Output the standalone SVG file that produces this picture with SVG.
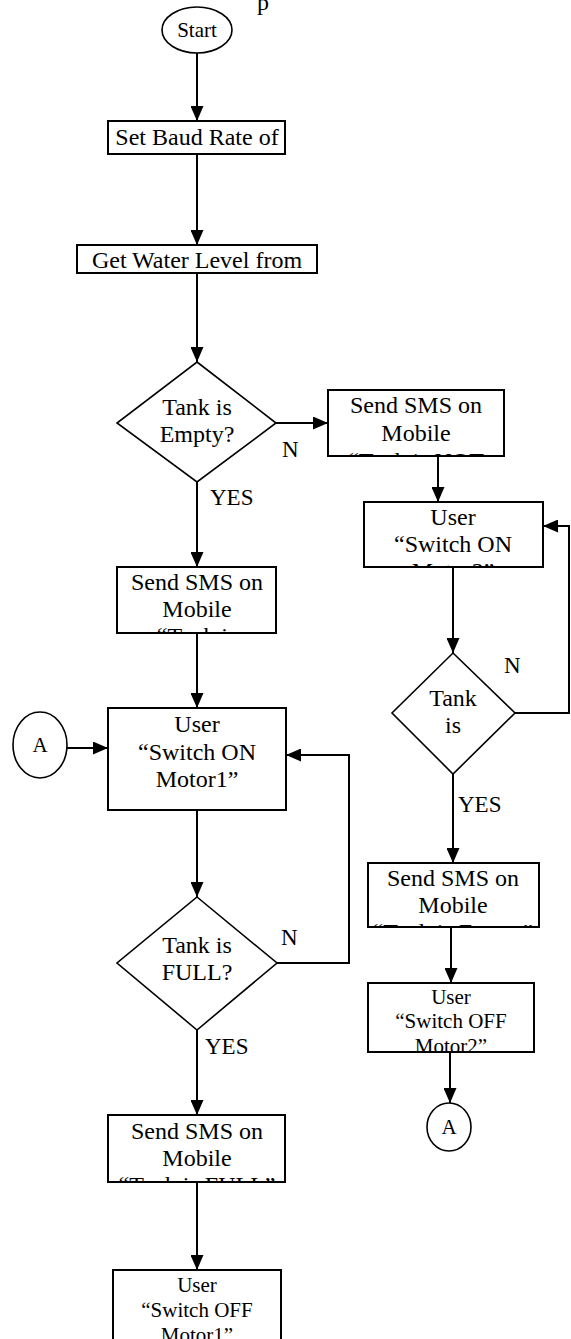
<svg xmlns="http://www.w3.org/2000/svg" width="571" height="1339" viewBox="0 0 571 1339">
<style>
text{font-family:"Liberation Serif","Times New Roman",serif;fill:#000}
.t{font-size:24px;text-anchor:middle}
.s{font-size:21px;text-anchor:middle}
.l{font-size:23px}
.box{fill:#fff;stroke:#000;stroke-width:2}
.dia{fill:#fff;stroke:#000;stroke-width:1.6}
.ell{fill:#fff;stroke:#000;stroke-width:1.6}
.c{fill:none;stroke:#000;stroke-width:2}
.a{marker-end:url(#ah)}
</style>
<defs>
<marker id="ah" markerUnits="userSpaceOnUse" markerWidth="16" markerHeight="13" refX="15" refY="6.5" orient="auto">
<path d="M0,0 L15,6.5 L0,13 z" fill="#000"/>
</marker>
<clipPath id="cp1"><rect x="328" y="390" width="176" height="65"/></clipPath>
<clipPath id="cp2"><rect x="364" y="502" width="179" height="64"/></clipPath>
<clipPath id="cp3"><rect x="117" y="567" width="159" height="65"/></clipPath>
<clipPath id="cp4"><rect x="368" y="863" width="171" height="63"/></clipPath>
<clipPath id="cp5"><rect x="368" y="983" width="166" height="68"/></clipPath>
<clipPath id="cp6"><rect x="108" y="1115" width="177" height="66"/></clipPath>
</defs>
<rect width="571" height="1339" fill="#fff"/>
<text class="t" x="263" y="10">p</text>

<g id="connectors">
<line class="c a" x1="197" y1="53" x2="197" y2="121"/>
<line class="c a" x1="197" y1="154" x2="197" y2="245"/>
<line class="c a" x1="197" y1="273" x2="197" y2="362"/>
<line class="c a" x1="276" y1="423" x2="328" y2="423"/>
<line class="c a" x1="197" y1="482" x2="197" y2="567"/>
<line class="c a" x1="438" y1="456" x2="438" y2="502"/>
<line class="c a" x1="197" y1="633" x2="197" y2="708"/>
<line class="c a" x1="67" y1="748" x2="108" y2="748"/>
<line class="c a" x1="453" y1="567" x2="453" y2="653"/>
<polyline class="c a" points="515,713 569,713 569,526 543,526"/>
<line class="c a" x1="453" y1="774" x2="453" y2="863"/>
<line class="c a" x1="451" y1="927" x2="451" y2="983"/>
<line class="c a" x1="450" y1="1052" x2="450" y2="1103"/>
<line class="c a" x1="197" y1="810" x2="197" y2="897"/>
<polyline class="c a" points="277,963 349,963 349,755 286,755"/>
<line class="c a" x1="197" y1="1030" x2="197" y2="1115"/>
<line class="c a" x1="197" y1="1182" x2="197" y2="1270"/>
<text class="l" x="282" y="457">N</text>
<text class="l" x="210" y="505">YES</text>
<text class="l" x="504" y="673">N</text>
<text class="l" x="458" y="812">YES</text>
<text class="l" x="281" y="945">N</text>
<text class="l" x="205" y="1054">YES</text>
</g>

<g id="start">
<ellipse class="ell" cx="197" cy="30" rx="35" ry="23"/>
<text class="s" x="197" y="37">Start</text>
</g>

<g id="set-baud">
<rect class="box" x="108" y="121" width="177" height="33"/>
<text class="t" x="197" y="145">Set Baud Rate of</text>
</g>

<g id="get-water">
<rect class="box" x="77" y="245" width="240" height="28"/>
<text class="t" x="197" y="268">Get Water Level from</text>
</g>

<g id="tank-empty">
<polygon class="dia" points="197,362 276,423 197,482 117,423"/>
<text class="t" x="197" y="415">Tank is</text>
<text class="t" x="197" y="442">Empty?</text>
</g>

<g id="sms-not-empty">
<rect class="box" x="328" y="390" width="176" height="66"/>
<g clip-path="url(#cp1)">
<text class="t" x="416" y="413">Send SMS on</text>
<text class="t" x="416" y="441">Mobile</text>
<text class="t" x="416" y="469">“Tank is NOT</text>
</g>
</g>

<g id="user-on-2">
<rect class="box" x="364" y="502" width="179" height="65"/>
<g clip-path="url(#cp2)">
<text class="t" x="453" y="525">User</text>
<text class="t" x="453" y="552">“Switch ON</text>
<text class="t" x="453" y="579">Motor2”</text>
</g>
</g>

<g id="sms-empty-left">
<rect class="box" x="117" y="567" width="159" height="66"/>
<g clip-path="url(#cp3)">
<text class="t" x="197" y="590">Send SMS on</text>
<text class="t" x="197" y="617">Mobile</text>
<text class="t" x="197" y="644">“Tank is</text>
</g>
</g>

<g id="connector-a-left">
<ellipse class="ell" cx="40" cy="745" rx="27" ry="33"/>
<text class="s" x="40" y="752">A</text>
</g>

<g id="user-on-1">
<rect class="box" x="108" y="708" width="178" height="102"/>
<text class="t" x="197" y="732">User</text>
<text class="t" x="197" y="760">“Switch ON</text>
<text class="t" x="197" y="787">Motor1”</text>
</g>

<g id="tank-full-right">
<polygon class="dia" points="453,653 515,713 453,774 392,713"/>
<text class="t" x="453" y="706">Tank</text>
<text class="t" x="453" y="733">is</text>
</g>

<g id="sms-empty-right">
<rect class="box" x="368" y="863" width="171" height="64"/>
<g clip-path="url(#cp4)">
<text class="t" x="453" y="886">Send SMS on</text>
<text class="t" x="453" y="913">Mobile</text>
<text class="t" x="453" y="940">“Tank is Empty”</text>
</g>
</g>

<g id="user-off-2">
<rect class="box" x="368" y="983" width="166" height="69"/>
<g clip-path="url(#cp5)">
<text class="s" x="451" y="1004">User</text>
<text class="s" x="451" y="1028">“Switch OFF</text>
<text class="s" x="451" y="1053">Motor2”</text>
</g>
</g>

<g id="connector-a-right">
<ellipse class="ell" cx="449" cy="1127" rx="22" ry="24"/>
<text class="s" x="449" y="1134">A</text>
</g>

<g id="tank-full">
<polygon class="dia" points="197,897 277,963 197,1030 117,963"/>
<text class="t" x="197" y="953">Tank is</text>
<text class="t" x="197" y="980">FULL?</text>
</g>

<g id="sms-full">
<rect class="box" x="108" y="1115" width="177" height="67"/>
<g clip-path="url(#cp6)">
<text class="t" x="197" y="1139">Send SMS on</text>
<text class="t" x="197" y="1166">Mobile</text>
<text class="t" x="197" y="1193">“Tank is FULL”</text>
</g>
</g>

<g id="user-off-1">
<rect class="box" x="113" y="1270" width="168" height="80"/>
<text class="s" x="197" y="1292">User</text>
<text class="s" x="197" y="1317">“Switch OFF</text>
<text class="s" x="197" y="1342">Motor1”</text>
</g>
</svg>
